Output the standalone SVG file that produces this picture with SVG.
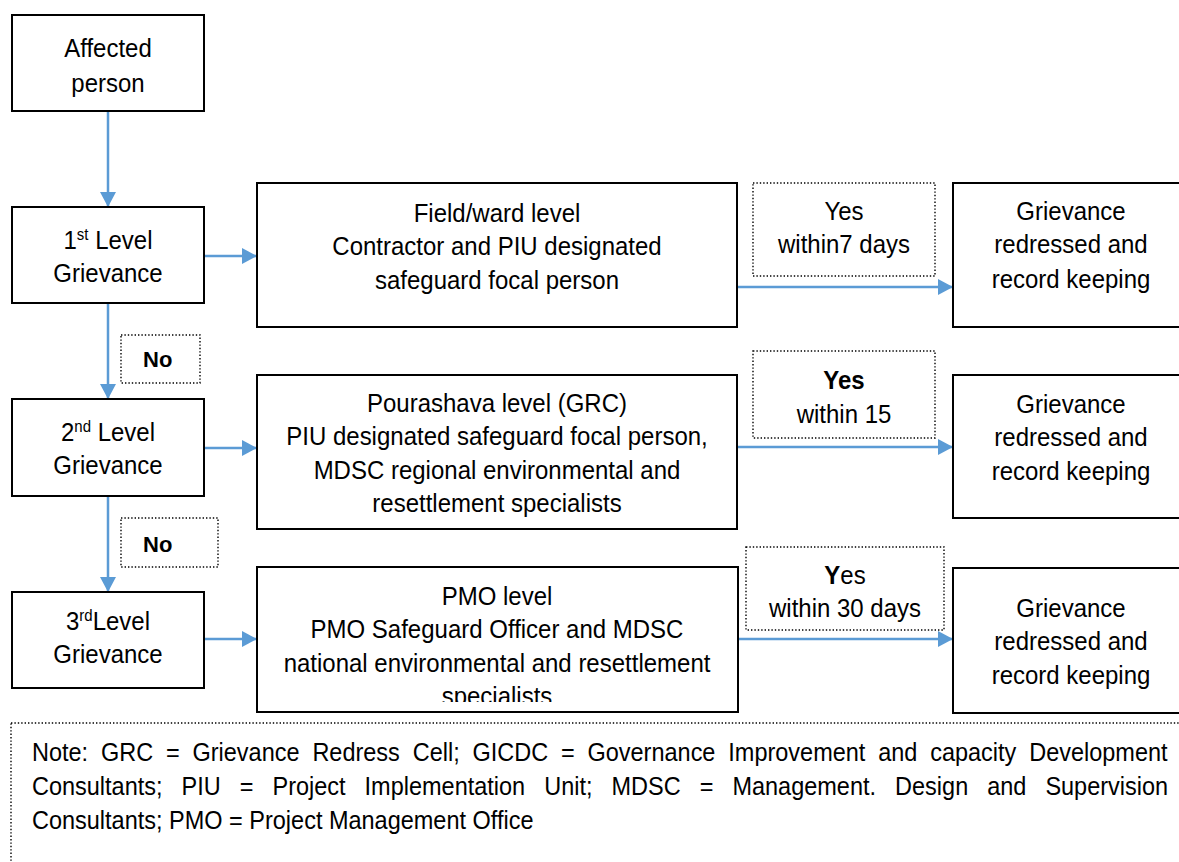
<svg xmlns="http://www.w3.org/2000/svg" width="1179" height="862" viewBox="0 0 1179 862">
<style>
.box{fill:#fff;stroke:#000;stroke-width:2}
.dot{fill:#fff;stroke:#000;stroke-width:1.4;stroke-dasharray:1.4 2}
.t{font-family:"Liberation Sans",Arial,sans-serif;font-size:24px;fill:#000;text-anchor:middle}
.n{font-family:"Liberation Sans",Arial,sans-serif;font-size:23.5px;fill:#000}
.no{font-family:"Liberation Sans",Arial,sans-serif;font-size:22px;font-weight:bold;fill:#000}
.sup{font-size:15px}
.b{font-weight:bold}
.c{fill:none;stroke:#5B9BD5;stroke-width:2.5}
</style>
<defs>
<marker id="ah" markerUnits="userSpaceOnUse" markerWidth="16" markerHeight="16" refX="15" refY="8" orient="auto"><path d="M0,0 L15,8 L0,16 z" fill="#5B9BD5"/></marker>
<clipPath id="clipPmo"><rect x="258" y="568" width="479" height="134"/></clipPath>
<clipPath id="clipYes3"><rect x="747" y="548" width="196" height="82"/></clipPath>
</defs>

<g id="connectors">
<line class="c" x1="108" y1="112" x2="108" y2="207" marker-end="url(#ah)"/>
<line class="c" x1="108" y1="304" x2="108" y2="399" marker-end="url(#ah)"/>
<line class="c" x1="108" y1="497" x2="108" y2="592" marker-end="url(#ah)"/>
<line class="c" x1="205" y1="256" x2="257" y2="256" marker-end="url(#ah)"/>
<line class="c" x1="205" y1="448" x2="257" y2="448" marker-end="url(#ah)"/>
<line class="c" x1="205" y1="639" x2="257" y2="639" marker-end="url(#ah)"/>
<line class="c" x1="738" y1="287" x2="953" y2="287" marker-end="url(#ah)"/>
<line class="c" x1="738" y1="447" x2="953" y2="447" marker-end="url(#ah)"/>
<line class="c" x1="739" y1="639" x2="953" y2="639" marker-end="url(#ah)"/>
</g>

<g id="affected">
<rect class="box" x="12" y="15" width="192" height="96"/>
<text class="t" transform="translate(108 57) scale(1 1.1)"><tspan x="0" y="0">Affected</tspan><tspan x="0" y="31.8">person</tspan></text>
</g>

<g id="level1">
<rect class="box" x="12" y="207" width="192" height="96"/>
<text class="t" transform="translate(108 249) scale(1 1.1)"><tspan x="0" y="0">1<tspan class="sup" dy="-8">st</tspan><tspan dy="8"> Level</tspan></tspan><tspan x="0" y="30">Grievance</tspan></text>
</g>

<g id="no1">
<rect class="dot" x="121" y="335" width="79" height="48"/>
<text class="no" x="143" y="367">No</text>
</g>

<g id="level2">
<rect class="box" x="12" y="399" width="192" height="97"/>
<text class="t" transform="translate(108 441) scale(1 1.1)"><tspan x="0" y="0">2<tspan class="sup" dy="-8">nd</tspan><tspan dy="8"> Level</tspan></tspan><tspan x="0" y="30">Grievance</tspan></text>
</g>

<g id="no2">
<rect class="dot" x="121" y="518" width="97" height="49"/>
<text class="no" x="143" y="552">No</text>
</g>

<g id="level3">
<rect class="box" x="12" y="592" width="192" height="96"/>
<text class="t" transform="translate(108 630) scale(1 1.1)"><tspan x="0" y="0">3<tspan class="sup" dy="-8">rd</tspan><tspan dy="8">Level</tspan></tspan><tspan x="0" y="30">Grievance</tspan></text>
</g>

<g id="field">
<rect class="box" x="257" y="183" width="480" height="144"/>
<text class="t" transform="translate(497 222) scale(1 1.1)"><tspan x="0" y="0">Field/ward level</tspan><tspan x="0" y="30">Contractor and PIU designated</tspan><tspan x="0" y="60.9">safeguard focal person</tspan></text>
</g>

<g id="pourashava">
<rect class="box" x="257" y="375" width="480" height="154"/>
<text class="t" transform="translate(497 412) scale(1 1.1)"><tspan x="0" y="0">Pourashava level (GRC)</tspan><tspan x="0" y="30">PIU designated safeguard focal person,</tspan><tspan x="0" y="60.9">MDSC regional environmental and</tspan><tspan x="0" y="90.9">resettlement specialists</tspan></text>
</g>

<g id="pmo">
<rect class="box" x="257" y="567" width="481" height="145"/>
<g clip-path="url(#clipPmo)">
<text class="t" transform="translate(497 605) scale(1 1.1)"><tspan x="0" y="0">PMO level</tspan><tspan x="0" y="30">PMO Safeguard Officer and MDSC</tspan><tspan x="0" y="60.9">national environmental and resettlement</tspan><tspan x="0" y="90.9">specialists</tspan></text>
</g>
</g>

<g id="yes1">
<rect class="dot" x="753" y="183" width="182" height="93"/>
<text class="t" transform="translate(844 220) scale(1 1.1)"><tspan x="0" y="0">Yes</tspan><tspan x="0" y="30">within7 days</tspan></text>
</g>

<g id="yes2">
<rect class="dot" x="753" y="351" width="182" height="87"/>
<text class="t" transform="translate(844 389) scale(1 1.1)"><tspan x="0" y="0" class="b">Yes</tspan><tspan x="0" y="30.9">within 15</tspan></text>
</g>

<g id="yes3">
<rect class="dot" x="746" y="547" width="198" height="83"/>
<g clip-path="url(#clipYes3)">
<text class="t" transform="translate(845 584) scale(1 1.1)"><tspan x="0" y="0"><tspan class="b">Y</tspan>es</tspan><tspan x="0" y="30">within 30 days</tspan></text>
</g>
</g>

<g id="redressed1">
<rect class="box" x="953" y="183" width="240" height="144"/>
<text class="t" transform="translate(1071 220) scale(1 1.1)"><tspan x="0" y="0">Grievance</tspan><tspan x="0" y="30">redressed and</tspan><tspan x="0" y="61.8">record keeping</tspan></text>
</g>

<g id="redressed2">
<rect class="box" x="953" y="375" width="240" height="143"/>
<text class="t" transform="translate(1071 413) scale(1 1.1)"><tspan x="0" y="0">Grievance</tspan><tspan x="0" y="30">redressed and</tspan><tspan x="0" y="60.9">record keeping</tspan></text>
</g>

<g id="redressed3">
<rect class="box" x="953" y="568" width="240" height="145"/>
<text class="t" transform="translate(1071 617) scale(1 1.1)"><tspan x="0" y="0">Grievance</tspan><tspan x="0" y="30">redressed and</tspan><tspan x="0" y="60.9">record keeping</tspan></text>
</g>

<g id="note">
<rect class="dot" x="11" y="723" width="1200" height="200"/>
<text class="n" transform="translate(0 761) scale(1 1.1)"><tspan y="0" x="32">Note:</tspan><tspan y="0" x="101">GRC</tspan><tspan y="0" x="166">=</tspan><tspan y="0" x="192.5">Grievance</tspan><tspan y="0" x="312.4">Redress</tspan><tspan y="0" x="412.7">Cell;</tspan><tspan y="0" x="472.5">GICDC</tspan><tspan y="0" x="561">=</tspan><tspan y="0" x="587.5">Governance</tspan><tspan y="0" x="728.3">Improvement</tspan><tspan y="0" x="878.2">and</tspan><tspan y="0" x="930.2">capacity</tspan><tspan y="0" x="1029.2">Development</tspan></text>
<text class="n" transform="translate(0 795) scale(1 1.1)"><tspan y="0" x="32">Consultants;</tspan><tspan y="0" x="181.6">PIU</tspan><tspan y="0" x="239.8">=</tspan><tspan y="0" x="272.5">Project</tspan><tspan y="0" x="364.6">Implementation</tspan><tspan y="0" x="544.2">Unit;</tspan><tspan y="0" x="611.5">MDSC</tspan><tspan y="0" x="699.7">=</tspan><tspan y="0" x="732.4">Management.</tspan><tspan y="0" x="895.1">Design</tspan><tspan y="0" x="987.2">and</tspan><tspan y="0" x="1045.4">Supervision</tspan></text>
<text class="n" transform="translate(0 829) scale(1 1.1)"><tspan y="0" x="32">Consultants; PMO = Project Management Office</tspan></text>
</g>
</svg>
